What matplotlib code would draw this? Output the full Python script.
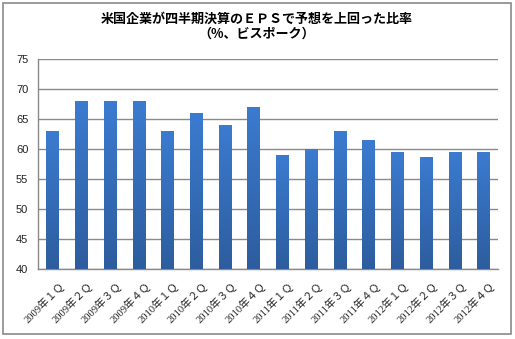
import matplotlib
matplotlib.use("Agg")
import matplotlib.pyplot as plt
import matplotlib.transforms as mtransforms
import numpy as np
from matplotlib.patches import Rectangle
from matplotlib.colors import LinearSegmentedColormap

categories = ["2009年１Ｑ", "2009年２Ｑ", "2009年３Ｑ", "2009年４Ｑ",
              "2010年１Ｑ", "2010年２Ｑ", "2010年３Ｑ", "2010年４Ｑ",
              "2011年１Ｑ", "2011年２Ｑ", "2011年３Ｑ", "2011年４Ｑ",
              "2012年１Ｑ", "2012年２Ｑ", "2012年３Ｑ", "2012年４Ｑ"]
values = [63, 68, 68, 68, 63, 66, 64, 67, 59, 60, 63, 61.5, 59.5, 58.8, 59.6, 59.5]
yticks = [40, 45, 50, 55, 60, 65, 70, 75]
title_lines = ["米国企業が四半期決算のＥＰＳで予想を上回った比率", "（%、ビスポーク）"]

W, H = 515, 339
fig = plt.figure(figsize=(W / 100, H / 100), dpi=100)
ax = fig.add_axes([38 / W, 1 - 269.3 / H, (497.7 - 38) / W, (269.3 - 59.3) / H])

x = np.arange(len(categories))
bars = ax.bar(x, values, width=0.42, color="#3570bd", zorder=3)

cmap = LinearSegmentedColormap.from_list("g", ["#2d5d9e", "#3b7bd0"])
grad = np.linspace(0, 1, 256).reshape(-1, 1)
for b in bars:
    bx, bw, bh = b.get_x(), b.get_width(), b.get_height()
    im = ax.imshow(grad, cmap=cmap, origin="lower", aspect="auto",
                   extent=[bx, bx + bw, 40, bh], zorder=3)
    im.set_clip_path(b)
    b.set_facecolor("none")
    b.set_edgecolor("none")
ax.set_xlim(-0.5, len(categories) - 0.5)
ax.set_ylim(40, 75)

ax.set_yticks(yticks)
ax.yaxis.grid(True, color="#8a8a8a", linewidth=1.0, zorder=0)
ax.set_axisbelow(True)
for s in ["top", "right"]:
    ax.spines[s].set_visible(False)
for s in ["left", "bottom"]:
    ax.spines[s].set_color("#8a8a8a")
    ax.spines[s].set_linewidth(1.0)
ax.tick_params(axis="y", length=0, pad=7, labelsize=8, labelcolor="#222222")
ax.tick_params(axis="x", length=0, pad=8)
for t in ax.get_yticklabels():
    t.set_fontfamily("Liberation Sans")

ax.set_xticks(x)
ax.set_xticklabels(categories, rotation=45, ha="right", rotation_mode="anchor",
                   fontsize=7.6, family=["Liberation Serif", "Noto Sans CJK JP"],
                   color="#222222")
offset = mtransforms.ScaledTranslation(6 / 100, 0, fig.dpi_scale_trans)
for t in ax.get_xticklabels():
    t.set_transform(t.get_transform() + offset)

fig.text(257 / W, 1 - 19 / H, title_lines[0], ha="center", va="center",
         fontsize=9.4, fontweight="bold", family=["Noto Sans CJK JP", "DejaVu Sans"])
fig.text(257 / W, 1 - 34 / H, title_lines[1], ha="center", va="center",
         fontsize=9.4, fontweight="bold", family=["Noto Sans CJK JP", "DejaVu Sans"])

border = Rectangle((3 / W, 1 - 334 / H), (511 - 3) / W, (334 - 3) / H,
                   transform=fig.transFigure, fill=False, edgecolor="#8a8a8a",
                   linewidth=1.2)
fig.patches.append(border)

fig.savefig("out.png", dpi=100)
